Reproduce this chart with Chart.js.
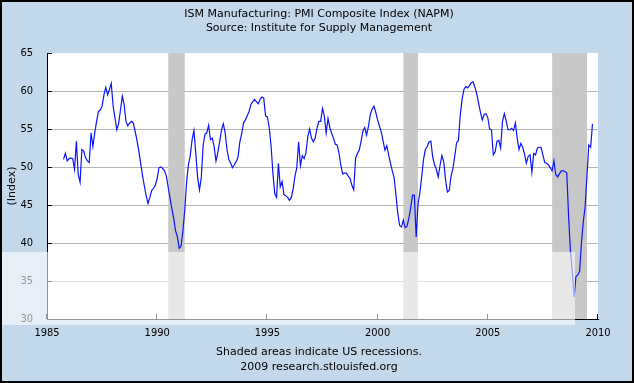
<!DOCTYPE html>
<html>
<head>
<meta charset="utf-8">
<script src="https://cdn.jsdelivr.net/npm/chart.js@4"></script>
<style>
  html, body { margin: 0; padding: 0; background: #c3d8eb; }
  canvas { display: block; }
</style>
</head>
<body>
<canvas id="pmiChart" width="634" height="383"></canvas>
<script>
// monthly ISM PMI, first value is Oct 1985
const startYear = 1985;
const startMonth = 10;
const pmi = [
  51.0, 51.8, 50.8,
  51.1, 51.2, 51.1, 49.7, 53.4, 49.0, 48.0, 52.3, 52.1, 51.2, 50.8, 50.6,
  54.5, 52.7, 54.5, 56.0, 57.3, 57.5, 58.0, 59.5, 60.5, 59.5, 60.2, 61.0,
  58.0, 56.5, 54.9, 55.7, 57.5, 59.3, 58.2, 56.0, 55.4, 55.8, 56.0, 55.8,
  54.7, 53.5, 52.1, 50.5, 48.9, 47.5, 46.2, 45.2, 46.0, 46.9, 47.2, 47.6,
  48.5, 49.9, 50.0, 49.8, 49.5, 48.8, 47.3, 45.9, 44.5, 43.2, 41.6, 40.8,
  39.3, 39.6, 41.6, 44.3, 48.0, 50.3, 51.5, 53.6, 54.8, 51.8, 48.7, 47.0,
  48.6, 52.8, 54.3, 54.5, 55.5, 53.6, 53.8, 52.7, 50.8, 51.9, 53.3, 54.9,
  55.7, 54.5, 52.3, 51.0, 50.5, 49.9, 50.3, 50.7, 51.3, 53.3, 54.4, 55.8,
  56.2, 56.7, 57.3, 58.2, 58.6, 58.9, 58.6, 58.3, 58.9, 59.2, 59.1, 56.7,
  56.6, 55.2, 52.8, 49.2, 46.5, 46.0, 50.5, 47.4, 48.1, 46.4, 46.2, 46.0,
  45.6, 46.0, 47.1, 48.8, 49.9, 53.3, 50.2, 51.5, 51.1, 51.9, 54.0, 55.0,
  53.8, 53.3, 53.8, 55.1, 56.0, 56.0, 57.7, 56.7, 54.5, 56.4, 55.2, 54.4,
  53.8, 53.0, 52.9, 51.8, 50.2, 49.1, 49.2, 49.2, 48.8, 48.5, 47.6, 47.0,
  51.1, 51.8, 52.2, 53.4, 54.7, 55.2, 54.2, 55.3, 56.9, 57.6, 58.0, 57.2,
  56.2, 55.4, 54.6, 53.4, 52.2, 52.8, 51.6, 50.5, 49.5, 48.6, 46.3, 43.9,
  42.3, 42.1, 43.0, 42.0, 42.2, 43.2, 44.6, 46.3, 46.3, 40.8, 45.1, 46.6,
  48.7, 51.0, 52.3, 52.7, 53.3, 53.4, 51.3, 50.3, 49.7, 48.7, 50.2, 51.5,
  50.7, 48.3, 46.7, 46.9, 48.8, 49.8, 51.4, 53.2, 53.5, 56.8, 58.9, 60.2,
  60.6, 60.4, 60.7, 61.1, 61.2, 60.5, 59.6, 58.4, 57.2, 56.2, 56.9, 57.0,
  56.5, 55.0, 54.9, 51.6, 52.0, 53.4, 53.5, 52.5, 56.0, 57.0, 56.1, 54.9,
  54.9, 55.1, 54.8, 55.8, 53.8, 52.3, 53.1, 52.6, 51.7, 50.5, 51.4, 51.6,
  49.3, 51.8, 51.6, 52.5, 52.6, 52.6, 51.6, 50.6, 50.5, 50.3, 49.9, 49.5,
  50.8, 49.0, 48.7, 49.1, 49.5, 49.5, 49.4, 49.2, 43.5, 38.9, 36.2, 32.9,
  35.6, 35.8, 36.3, 40.1, 42.8, 44.8, 48.9, 52.9, 52.6, 55.7
];

// recessions as decimal years
const recessionStart = [1990.5, 2001.17, 2007.92];
const recessionEnd = [1991.25, 2001.83, 2009.5];

const yearTicks = [1985, 1990, 1995, 2000, 2005, 2010];
const indexTicks = [30, 35, 40, 45, 50, 55, 60, 65];

const titleLines = ['ISM Manufacturing: PMI Composite Index (NAPM)', 'Source: Institute for Supply Management'];
const footerLines = ['Shaded areas indicate US recessions.', '2009 research.stlouisfed.org'];

const points = pmi.map(function (v, i) {
    return { x: startYear + (startMonth - 1 + i) / 12, y: v };
});

const tickFont = "'DejaVu Sans Condensed', 'DejaVu Sans', sans-serif";
const textFont = "'DejaVu Sans', sans-serif";
Chart.defaults.font.family = tickFont;
Chart.defaults.font.size = 11;
Chart.defaults.color = '#000';

const fredDecor = {
    id: 'fredDecor',
    beforeDraw: function (chart) {
        const ctx = chart.ctx;
        const a = chart.chartArea;
        ctx.save();
        ctx.fillStyle = '#c3d8eb';
        ctx.fillRect(0, 0, chart.width, chart.height);
        ctx.fillStyle = '#ffffff';
        ctx.fillRect(a.left, a.top, a.right - a.left, a.bottom - a.top);
        ctx.restore();
    },
    beforeDatasetsDraw: function (chart) {
        const ctx = chart.ctx;
        const a = chart.chartArea;
        const x = chart.scales.x;
        ctx.save();
        ctx.fillStyle = '#c8c8c8';
        for (let i = 0; i < recessionStart.length; i++) {
            const x0 = x.getPixelForValue(recessionStart[i]);
            const x1 = x.getPixelForValue(recessionEnd[i]);
            ctx.fillRect(x0, a.top, x1 - x0, a.bottom - a.top);
        }
        ctx.restore();
    },
    afterDraw: function (chart) {
        const ctx = chart.ctx;
        const a = chart.chartArea;
        const x = chart.scales.x;
        const y = chart.scales.y;
        ctx.save();
        // inward tick marks
        ctx.strokeStyle = '#000';
        ctx.lineWidth = 1;
        ctx.beginPath();
        indexTicks.forEach(function (t) {
            const py = Math.round(y.getPixelForValue(t)) + 0.5;
            ctx.moveTo(a.left, py);
            ctx.lineTo(a.left + 5, py);
        });
        yearTicks.forEach(function (t) {
            const px = Math.round(x.getPixelForValue(t)) - 0.5;
            ctx.moveTo(px, a.bottom);
            ctx.lineTo(px, a.bottom - 5);
        });
        ctx.stroke();
        // light band left by the image host
        ctx.fillStyle = 'rgba(255,255,255,0.58)';
        ctx.fillRect(0, 252, 575, 73);
        // frame
        ctx.strokeStyle = '#000';
        ctx.lineWidth = 2;
        ctx.strokeRect(1, 1, chart.width - 2, chart.height - 2);
        ctx.restore();
    }
};

new Chart(document.getElementById('pmiChart').getContext('2d'), {
    type: 'line',
    data: {
        datasets: [{
            label: 'PMI',
            data: points,
            borderColor: '#0a14ff',
            borderWidth: 1.2,
            pointRadius: 0,
            tension: 0,
            fill: false
        }]
    },
    options: {
        responsive: false,
        animation: false,
        parsing: false,
        layout: { padding: { left: 4, right: 0, top: 0, bottom: 0 } },
        scales: {
            x: {
                type: 'linear',
                min: 1985,
                max: 2010,
                afterBuildTicks: function (scale) {
                    scale.ticks = yearTicks.map(function (v) { return { value: v }; });
                },
                afterFit: function (scale) { scale.height = 24; },
                ticks: {
                    padding: 8,
                    maxRotation: 0,
                    callback: function (v) { return String(v); }
                },
                grid: { display: false, drawTicks: false },
                border: { display: true, color: '#000', width: 1, z: 1 }
            },
            y: {
                min: 30,
                max: 65,
                afterBuildTicks: function (scale) {
                    scale.ticks = indexTicks.map(function (v) { return { value: v }; });
                },
                afterFit: function (scale) { scale.width = 43; },
                ticks: { padding: 14 },
                grid: {
                    drawTicks: false,
                    color: function (c) { return c.tick && c.tick.value === 65 ? 'rgba(0,0,0,0)' : '#b4b4b4'; }
                },
                border: { display: true, color: '#000', width: 1, z: 1 },
                title: {
                    display: true,
                    text: '(Index)',
                    font: { family: textFont, size: 11 },
                    padding: { top: 2, bottom: 0 }
                }
            },
            // empty right margin so the titles centre on the page
            yRight: {
                position: 'right',
                min: 30,
                max: 65,
                afterFit: function (scale) { scale.width = 36; },
                ticks: { display: false },
                grid: { display: false, drawTicks: false },
                border: { display: false }
            }
        },
        plugins: {
            legend: { display: false },
            tooltip: { enabled: false },
            title: {
                display: true,
                text: titleLines,
                color: '#000',
                font: { family: textFont, size: 11, weight: 'normal', lineHeight: 14 / 11 },
                padding: { top: 7, bottom: 18 }
            },
            subtitle: {
                display: true,
                position: 'bottom',
                text: footerLines,
                color: '#000',
                font: { family: textFont, size: 11, weight: 'normal', lineHeight: 15 / 11 },
                padding: { top: 2, bottom: 8 }
            }
        }
    },
    plugins: [fredDecor]
});
</script>
</body>
</html>
